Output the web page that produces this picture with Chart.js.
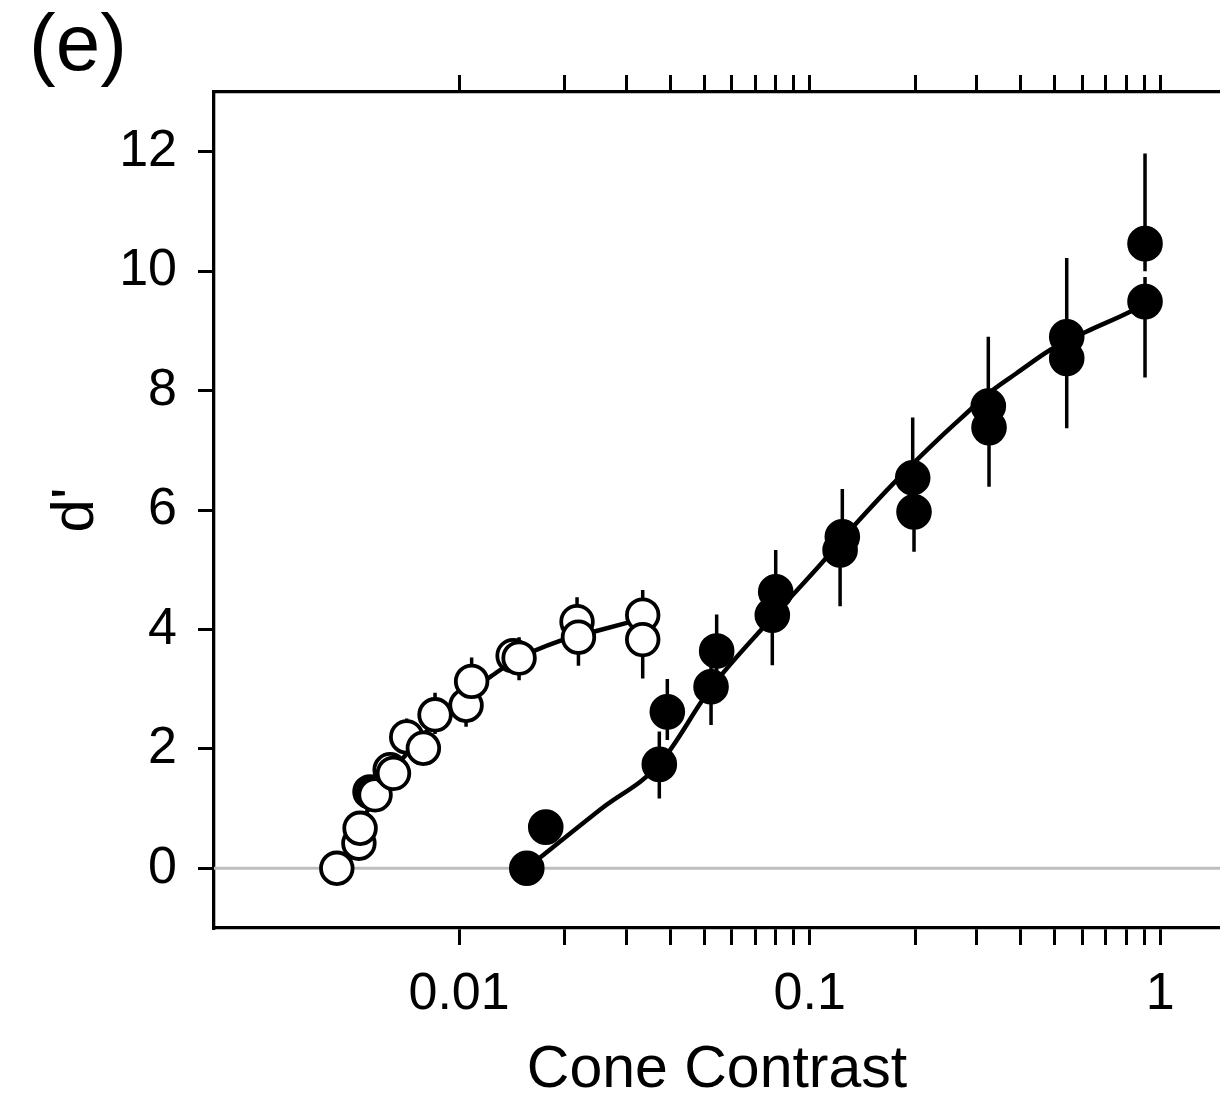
<!DOCTYPE html>
<html>
<head>
<meta charset="utf-8">
<script src="https://cdn.jsdelivr.net/npm/chart.js@4/dist/chart.umd.min.js"></script>
<style>
html,body{margin:0;padding:0;background:#fff;overflow:hidden;}
#wrap{position:relative;width:1220px;height:1110px;}
#panel{position:absolute;left:29px;top:3px;font-family:"Liberation Sans",Arial,Helvetica,sans-serif;font-size:80px;line-height:80px;color:#000;white-space:nowrap;}
canvas{display:block;}
</style>
</head>
<body>
<div id="wrap"><canvas id="c" width="1220" height="1110"></canvas><div id="panel">(e)</div></div>
<script>
// ---- axis ranges and ticks ----
const xRange = [0.002, 1.48];
const yRange = [-1, 13];
const xTickValues = [0.01,0.02,0.03,0.04,0.05,0.06,0.07,0.08,0.09,0.1,0.2,0.3,0.4,0.5,0.6,0.7,0.8,0.9,1];
const xTickLabels = ['0.01','','','','','','','','','0.1','','','','','','','','','1'];
const yTickValues = [0,2,4,6,8,10,12];
const xTitle = 'Cone Contrast';
const yTitle = "d'";

// ---- open circles ----
const openX    = [0.00448,0.00518,0.00522,0.00557,0.00569,0.00576,0.00636,0.00650,0.00709,0.00791,0.00854,0.01047,0.01086,0.01426,0.01483,0.02170,0.02190,0.03340,0.03340];
const openY    = [0.00,0.42,0.67,1.28,1.26,1.23,1.65,1.59,2.20,2.01,2.57,2.73,3.13,3.56,3.52,4.13,3.87,4.24,3.83];
const openLow  = [0.00,0.42,0.67,1.28,0.95,1.23,1.65,1.59,1.90,2.01,2.25,2.37,2.85,3.56,3.15,3.85,3.39,3.95,3.18];
const openHigh = [0.00,0.42,0.67,1.28,1.55,1.23,1.65,1.59,2.51,2.01,2.94,3.00,3.53,3.56,3.87,4.54,4.15,4.66,4.10];

// ---- filled circles ----
const filledX    = [0.0156,0.01767,0.03725,0.03926,0.05232,0.05429,0.07823,0.0800,0.1221,0.1239,0.1967,0.1984,0.3232,0.3247,0.5409,0.5409,0.9045,0.9045];
const filledY    = [0.00,0.69,1.74,2.62,3.04,3.64,4.24,4.63,5.33,5.55,6.54,5.97,7.74,7.38,8.90,8.54,10.46,9.49];
const filledLow  = [0.00,0.69,1.17,2.15,2.40,3.25,3.40,4.20,4.39,5.10,6.10,5.30,7.30,6.39,8.50,7.37,10.00,8.22];
const filledHigh = [0.00,0.69,2.29,3.17,3.45,4.25,4.70,5.33,5.70,6.35,7.55,6.40,8.90,7.80,10.22,8.90,11.97,9.90];

// ---- fitted curves ----
const openFitX = [0.0050,0.0055,0.0060,0.0066,0.0073,0.0081,0.0090,0.0100,0.0112,0.0123,0.0146,0.0194,0.0245,0.0301,0.0334];
const openFitY = [0.50,0.98,1.35,1.70,2.00,2.30,2.62,2.86,3.05,3.21,3.50,3.81,3.97,4.11,4.18];
const filledFitX = [0.0156,0.0255,0.0372,0.0523,0.0782,0.107,0.135,0.177,0.236,0.280,0.323,0.389,0.485,0.617,0.820,0.9045];
const filledFitY = [0.00,1.00,1.74,3.02,4.20,5.08,5.76,6.50,7.22,7.62,7.95,8.29,8.68,8.99,9.32,9.46];

// ---- reference line ----
const zeroLineX = xRange;
const zeroLineY = [0, 0];

const FONT = "'Liberation Sans', Arial, Helvetica, sans-serif";
const pts = (xs, ys) => xs.map((x, i) => ({x: x, y: ys[i]}));

const errorBarPlugin = {
  id: 'errbars',
  beforeDatasetsDraw(chart) {
    const {ctx, chartArea, scales} = chart;
    const xs = scales.x, ys = scales.y;
    ctx.save();
    ctx.beginPath();
    ctx.rect(chartArea.left, chartArea.top, chartArea.right - chartArea.left, chartArea.bottom - chartArea.top);
    ctx.clip();
    ctx.beginPath();
    chart.data.datasets.forEach(ds => {
      if (!ds.errLow) return;
      ds.data.forEach((p, i) => {
        const px = xs.getPixelForValue(p.x);
        ctx.moveTo(px, ys.getPixelForValue(ds.errLow[i]));
        ctx.lineTo(px, ys.getPixelForValue(ds.errHigh[i]));
      });
    });
    ctx.lineWidth = 3.5;
    ctx.strokeStyle = '#000';
    ctx.lineCap = 'butt';
    ctx.stroke();
    ctx.restore();
  }
};

const setXTicks = s => { s.ticks = xTickValues.map(v => ({value: v})); };
const noPad = s => { s.paddingLeft = 0; s.paddingRight = 0; };
const gridCfg = {drawOnChartArea: false, drawTicks: true, tickLength: 17, tickWidth: 3, tickColor: '#000', color: '#000', lineWidth: 3};
const borderCfg = {display: true, width: 3.3, color: '#000'};

new Chart(document.getElementById('c'), {
  type: 'scatter',
  data: {
    datasets: [
      {label: 'zero', data: pts(zeroLineX, zeroLineY), showLine: true, borderColor: '#bebebe', borderWidth: 3, pointRadius: 0, order: 5},
      {label: 'openFit', data: pts(openFitX, openFitY), showLine: true, borderColor: '#000', borderWidth: 4.5, pointRadius: 0, cubicInterpolationMode: 'monotone', order: 4},
      {label: 'filledFit', data: pts(filledFitX, filledFitY), showLine: true, borderColor: '#000', borderWidth: 4.5, pointRadius: 0, cubicInterpolationMode: 'monotone', order: 3},
      {label: 'open', data: pts(openX, openY), errLow: openLow, errHigh: openHigh, pointRadius: 15.8, pointBorderWidth: 3.8, pointBackgroundColor: '#fff', pointBorderColor: '#000', order: 1},
      {label: 'filled', data: pts(filledX, filledY), errLow: filledLow, errHigh: filledHigh, pointRadius: 16, pointBorderWidth: 3.6, pointBackgroundColor: '#000', pointBorderColor: '#000', order: 2}
    ]
  },
  options: {
    responsive: false,
    animation: false,
    events: [],
    layout: {padding: 0, autoPadding: false},
    plugins: {legend: {display: false}, tooltip: {enabled: false}, title: {display: false}},
    scales: {
      x: {
        type: 'logarithmic', position: 'bottom', min: xRange[0], max: xRange[1],
        afterBuildTicks: setXTicks,
        afterFit: s => { s.height = 182; noPad(s); },
        ticks: {autoSkip: false, maxRotation: 0, minRotation: 0, padding: 18, color: '#000', font: {family: FONT, size: 52},
          callback: (v, i) => xTickLabels[i]},
        grid: gridCfg, border: borderCfg,
        title: {display: true, text: xTitle, color: '#000', font: {family: FONT, size: 59}, padding: {top: 0, bottom: 4}}
      },
      x2: {
        type: 'logarithmic', position: 'top', min: xRange[0], max: xRange[1],
        afterBuildTicks: setXTicks,
        afterFit: s => { s.height = 92; noPad(s); },
        ticks: {display: false, autoSkip: false},
        grid: gridCfg, border: borderCfg
      },
      y: {
        type: 'linear', position: 'left', min: yRange[0], max: yRange[1],
        afterBuildTicks: s => { s.ticks = yTickValues.map(v => ({value: v})); },
        afterFit: s => { s.width = 214; s.paddingTop = 0; s.paddingBottom = 0; },
        ticks: {padding: 21, color: '#000', font: {family: FONT, size: 52}},
        grid: {drawOnChartArea: false, drawTicks: true, tickLength: 16, tickWidth: 3, tickColor: '#000', color: '#000', lineWidth: 3},
        border: borderCfg,
        title: {display: true, text: yTitle, color: '#000', font: {family: FONT, size: 60}, padding: {top: 40, bottom: 0}}
      }
    }
  },
  plugins: [errorBarPlugin]
});
</script>
</body>
</html>
